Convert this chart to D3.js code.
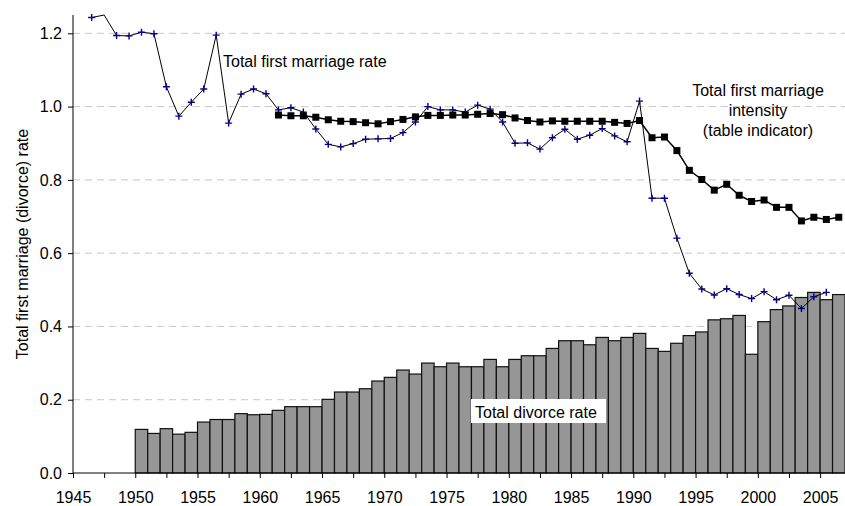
<!DOCTYPE html>
<html>
<head>
<meta charset="utf-8">
<script src="https://cdn.jsdelivr.net/npm/d3@7"></script>
<style>
  html, body { margin: 0; padding: 0; background: #fff; }
  svg { display: block; font-family: "Liberation Sans", Arial, sans-serif; }
</style>
</head>
<body>
<div id="chart"></div>
<script>
// Total first marriage rate (period), 1946-2005
const marriageYears = d3.range(1946, 2006);
const marriageRate = [
  1.243, 1.250, 1.194, 1.193, 1.203, 1.199, 1.054, 0.974, 1.012, 1.048,
  1.195, 0.955, 1.034, 1.048, 1.035, 0.991, 0.997, 0.985, 0.939, 0.897,
  0.890, 0.899, 0.911, 0.912, 0.913, 0.929, 0.958, 1.000, 0.991, 0.991,
  0.985, 1.004, 0.993, 0.958, 0.900, 0.901, 0.884, 0.915, 0.938, 0.911,
  0.922, 0.940, 0.920, 0.904, 1.015, 0.750, 0.750, 0.641, 0.545, 0.502,
  0.486, 0.503, 0.487, 0.476, 0.495, 0.473, 0.485, 0.449, 0.481, 0.493
];

// Total first marriage intensity (table indicator), 1961-2006
const intensityYears = d3.range(1961, 2007);
const intensity = [
  0.977, 0.975, 0.975, 0.971, 0.964, 0.960, 0.959, 0.956, 0.953, 0.959,
  0.965, 0.972, 0.976, 0.976, 0.977, 0.977, 0.979, 0.981, 0.978, 0.969,
  0.962, 0.958, 0.961, 0.960, 0.960, 0.960, 0.960, 0.957, 0.954, 0.962,
  0.915, 0.917, 0.880, 0.826, 0.801, 0.772, 0.788, 0.758, 0.741, 0.745,
  0.725, 0.725, 0.688, 0.698, 0.692, 0.698
];

// Total divorce rate, 1950-2006
const divorceYears = d3.range(1950, 2007);
const divorceRate = [
  0.119, 0.108, 0.121, 0.106, 0.111, 0.139, 0.146, 0.146, 0.162, 0.159,
  0.160, 0.171, 0.181, 0.181, 0.181, 0.201, 0.221, 0.221, 0.230, 0.251,
  0.261, 0.281, 0.270, 0.300, 0.290, 0.300, 0.290, 0.290, 0.310, 0.290,
  0.310, 0.320, 0.320, 0.340, 0.361, 0.361, 0.350, 0.370, 0.361, 0.370,
  0.381, 0.340, 0.332, 0.354, 0.375, 0.385, 0.418, 0.421, 0.430, 0.324,
  0.413, 0.446, 0.456, 0.479, 0.493, 0.473, 0.487
];

const yTicks = [0, 0.2, 0.4, 0.6, 0.8, 1.0, 1.2];
const xLabelYears = [1945, 1950, 1955, 1960, 1965, 1970, 1975, 1980, 1985, 1990, 1995, 2000, 2005];

const width = 845, height = 506;
const margin = { top: 15, right: 0, bottom: 33, left: 73 };
const fontSize = '16px';

const svg = d3.select('#chart')
  .append('svg')
  .attr('width', width)
  .attr('height', height);

const x = d3.scaleLinear()
  .domain([1945, 2007])
  .range([margin.left, width - margin.right]);

const y = d3.scaleLinear()
  .domain([0, 1.25])
  .range([height - margin.bottom, margin.top]);

// Gridlines
svg.append('g')
  .selectAll('line')
  .data(yTicks.filter(d => d > 0))
  .enter()
  .append('line')
  .attr('x1', margin.left)
  .attr('x2', width)
  .attr('y1', d => y(d))
  .attr('y2', d => y(d))
  .attr('stroke', '#c8c8c8')
  .attr('stroke-width', 1)
  .attr('stroke-dasharray', '7,5');

// Divorce bars
svg.append('g')
  .selectAll('rect')
  .data(divorceYears.map((yr, i) => ({ yr, v: divorceRate[i] })))
  .enter()
  .append('rect')
  .attr('x', d => x(d.yr))
  .attr('width', d => x(d.yr + 1) - x(d.yr))
  .attr('y', d => y(d.v))
  .attr('height', d => y(0) - y(d.v))
  .attr('fill', '#969696')
  .attr('stroke', '#111')
  .attr('stroke-width', 1.2);

// Axes
const xAxis = d3.axisBottom(x)
  .tickValues(d3.range(1945, 2007.1, 2.5))
  .tickSize(5)
  .tickFormat(d => xLabelYears.includes(d) ? d : '');

svg.append('g')
  .attr('transform', `translate(0,${y(0)})`)
  .call(xAxis)
  .call(g => g.select('.domain').attr('d', `M${margin.left},0H${width}`).attr('stroke', '#000'))
  .call(g => g.selectAll('text')
    .attr('font-size', fontSize)
    .attr('font-family', '"Liberation Sans", Arial, sans-serif')
    .attr('fill', '#000')
    .attr('dy', '1.4em'));

const yAxis = d3.axisLeft(y)
  .tickValues(yTicks)
  .tickSize(5)
  .tickPadding(6)
  .tickFormat(d3.format('.1f'));

svg.append('g')
  .attr('transform', `translate(${margin.left},0)`)
  .call(yAxis)
  .call(g => g.select('.domain').attr('d', `M0,${y(0)}V${margin.top}`).attr('stroke', '#000'))
  .call(g => g.selectAll('text')
    .attr('font-size', fontSize)
    .attr('font-family', '"Liberation Sans", Arial, sans-serif')
    .attr('fill', '#000'));

// Y axis title
svg.append('text')
  .attr('transform', `translate(22,${(y(0) + margin.top) / 2}) rotate(-90)`)
  .attr('text-anchor', 'middle')
  .attr('dy', '0.35em')
  .style('font-size', fontSize)
  .text('Total first marriage (divorce) rate');

// Lines
const line = d3.line()
  .x(d => x(d.yr + 0.5))
  .y(d => y(d.v));

const marriagePts = marriageYears.map((yr, i) => ({ yr, v: marriageRate[i] }));
const intensityPts = intensityYears.map((yr, i) => ({ yr, v: intensity[i] }));

svg.append('path')
  .datum(marriagePts)
  .attr('d', line)
  .attr('fill', 'none')
  .attr('stroke', '#000')
  .attr('stroke-width', 1);

svg.append('g')
  .selectAll('path')
  .data(marriagePts.filter(d => d.v < 1.248))
  .enter()
  .append('path')
  .attr('d', d => {
    const cx = x(d.yr + 0.5), cy = y(d.v);
    return `M${cx - 3.5},${cy}H${cx + 3.5}M${cx},${cy - 3.5}V${cy + 3.5}`;
  })
  .attr('stroke', '#00008b')
  .attr('stroke-width', 1.4);

svg.append('path')
  .datum(intensityPts)
  .attr('d', line)
  .attr('fill', 'none')
  .attr('stroke', '#000')
  .attr('stroke-width', 1.5);

svg.append('g')
  .selectAll('rect')
  .data(intensityPts)
  .enter()
  .append('rect')
  .attr('x', d => x(d.yr + 0.5) - 3.5)
  .attr('y', d => y(d.v) - 3.5)
  .attr('width', 7)
  .attr('height', 7)
  .attr('fill', '#000');

// Annotations
svg.append('text')
  .attr('x', 223)
  .attr('y', 61.5)
  .attr('dy', '0.35em')
  .style('font-size', fontSize)
  .text('Total first marriage rate');

const intensityLabel = svg.append('text')
  .attr('text-anchor', 'middle')
  .style('font-size', fontSize);
['Total first marriage', 'intensity', '(table indicator)'].forEach((t, i) => {
  intensityLabel.append('tspan')
    .attr('x', 758)
    .attr('y', 90 + i * 20)
    .attr('dy', '0.35em')
    .text(t);
});

svg.append('rect')
  .attr('x', 471)
  .attr('y', 399)
  .attr('width', 135)
  .attr('height', 24)
  .attr('fill', '#fff');

svg.append('text')
  .attr('x', 475)
  .attr('y', 412.5)
  .attr('dy', '0.35em')
  .style('font-size', fontSize)
  .text('Total divorce rate');
</script>
</body>
</html>
